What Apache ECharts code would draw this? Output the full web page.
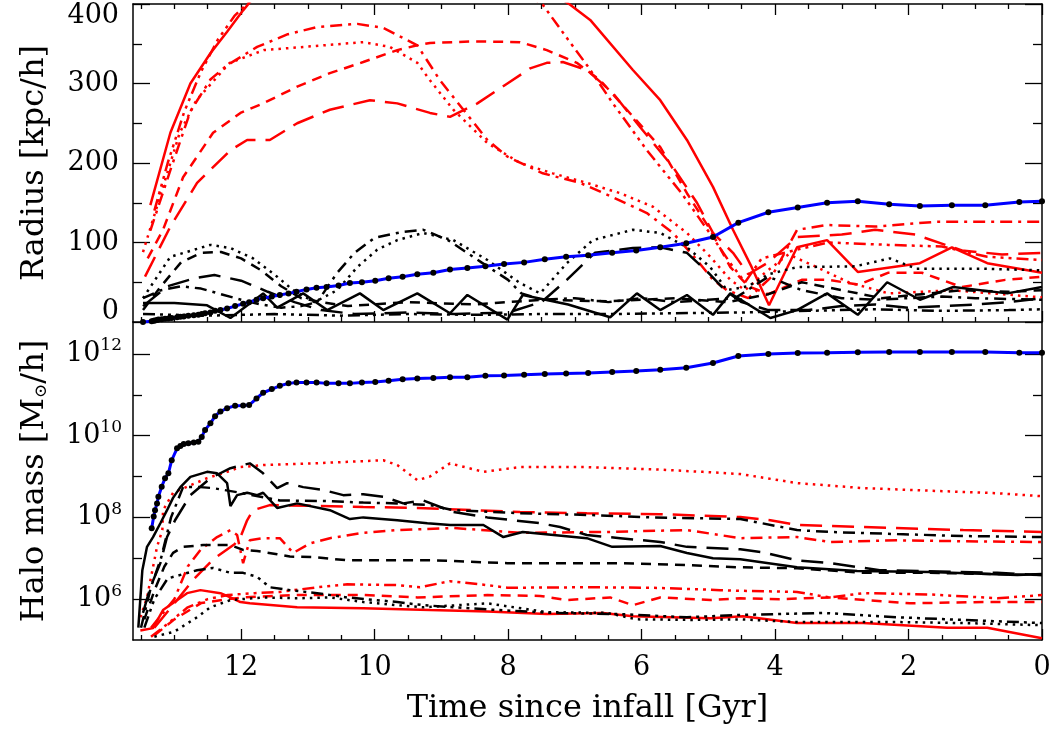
<!DOCTYPE html>
<html><head><meta charset="utf-8">
<script src="https://cdn.jsdelivr.net/npm/echarts@6/dist/echarts.min.js"></script>
<style>html,body{margin:0;padding:0;background:#fff}#c{width:1054px;height:733px}</style>
</head><body><div id="c"></div>
<script>
// ---------- tick values ----------
const xMajorTicks = [0, 2, 4, 6, 8, 10, 12];
const xMinorTicks = [0.5, 1, 1.5, 2.5, 3, 3.5, 4.5, 5, 5.5, 6.5, 7, 7.5, 8.5, 9, 9.5, 10.5, 11, 11.5, 12.5, 13, 13.5];
const rMajorTicks = [0, 100, 200, 300, 400];
const rMinorTicks = [50, 150, 250, 350];
const mMajorTicks = [1e6, 1e8, 1e10, 1e12];
const mMinorTicks = [1e7, 1e9, 1e11];

// ---------- host halo (blue with dots) ----------
const hostTime = [13.47,13.34,13.31,13.29,13.26,13.24,13.19,13.14,13.09,13.04,12.96,12.91,12.86,12.79,12.71,12.64,12.59,12.54,12.46,12.39,12.31,12.21,12.09,11.97,11.88,11.77,11.67,11.54,11.42,11.29,11.17,11.02,10.87,10.72,10.54,10.37,10.19,9.99,9.79,9.58,9.36,9.12,8.87,8.61,8.34,8.06,7.76,7.45,7.13,6.80,6.44,6.08,5.72,5.33,4.93,4.55,4.10,3.66,3.22,2.76,2.29,1.83,1.35,0.85,0.34,0];
const hostRadius = [0,1,1.5,2,2.5,3,3.5,4,4.5,5,6,6.5,7,8,8.5,9,10,11,12,14,15,17,20,23,25,28,30,32,34,36,38,41,43,44,46,49,50,52,55,57,60,62,66,68,70,73,75,79,82,84,87,90,94,99,107,125,138,144,150,152,148,146,147,147,151,152];
const hostMass = [null,5.4e7,1.05e8,1.5e8,2.2e8,3.2e8,5.6e8,9.1e8,1.2e9,2.5e9,4.9e9,5.6e9,6.2e9,6.5e9,6.8e9,7.1e9,9.3e9,1.38e10,2.0e10,3.0e10,3.9e10,4.7e10,5.4e10,5.5e10,5.6e10,8.1e10,1.12e11,1.38e11,1.66e11,1.9e11,2.0e11,2.0e11,2.0e11,1.9e11,1.9e11,1.9e11,2.0e11,2.04e11,2.2e11,2.4e11,2.5e11,2.57e11,2.7e11,2.7e11,2.9e11,2.95e11,3.1e11,3.2e11,3.3e11,3.4e11,3.6e11,3.8e11,4.1e11,4.6e11,6.0e11,8.9e11,1.0e12,1.05e12,1.07e12,1.1e12,1.12e12,1.12e12,1.12e12,1.12e12,1.07e12,1.07e12];

// ---------- satellites: radius [time, kpc/h] ----------
const rRedSolid = [[13.36,147],[13.06,238],[12.76,300],[12.46,338],[12.21,365],[11.97,392],[11.5,440],[10,500],[8.5,480],[7.07,399],[6.77,380],[6.13,317],[5.72,279],[5.32,229],[4.93,170],[4.63,116],[4.35,69],[4.09,21],[3.67,94],[3.22,103],[2.76,63],[1.83,74],[1.35,94],[0.82,74],[0,62]];
const rRedDotted = [[13.47,88],[13.17,170],[12.92,238],[12.67,279],[12.17,326],[11.66,342],[10.17,352],[9.77,346],[9.36,326],[9.17,304],[8.82,267],[8.31,225],[7.82,200],[7.33,187],[6.82,175],[6.32,162],[5.83,145],[5.32,112],[4.97,82],[4.67,53],[4.45,40],[4.15,62],[3.8,85],[3.4,70],[2.9,50],[2.3,36],[1.35,40],[0,31]];
const rRedDashed = [[13.4,80],[13.17,116],[12.87,182],[12.42,238],[12.01,263],[11.67,275],[11.16,296],[10.67,313],[10.17,327],[9.66,342],[9.36,348],[9.17,351],[8.5,353],[7.82,352],[7.42,342],[6.97,326],[6.62,304],[6.22,267],[5.72,220],[5.32,162],[4.97,116],[4.67,69],[4.4,45],[4.1,35],[3.6,53],[3.2,53],[2.75,47],[2.3,62],[1.8,62],[1.2,44],[0.55,53],[0,57]];
const rRedDashDot = [[13.36,115],[13.06,191],[12.76,265],[12.46,305],[12.21,323],[11.76,346],[11.3,362],[10.86,371],[10.26,375],[9.87,370],[9.36,348],[9.02,304],[8.67,267],[8.31,229],[8.01,208],[7.48,187],[6.92,175],[6.43,157],[5.92,137],[5.53,112],[5.17,78],[4.93,53],[4.72,40],[4.4,30],[4.05,57],[3.67,116],[3.22,122],[2.5,120],[1.6,126],[0.8,126],[0,126]];
const rRedDash3 = [[13.3,140],[13.1,200],[12.85,265],[12.6,315],[12.35,355],[12.1,385],[11.85,405],[11,460],[9.5,480],[8.2,440],[7.48,399],[7.1,355],[6.8,321],[6.43,275],[5.92,216],[5.4,162],[4.98,112],[4.67,74],[4.45,50],[4.2,80],[3.67,91],[3.2,100],[2.3,97],[1.5,95],[0.82,82],[0,78]];
const rRedLongDash = [[13.44,57],[13.06,120],[12.66,175],[12.16,216],[11.91,229],[11.57,229],[11.16,250],[10.67,267],[10.07,279],[9.66,275],[9.17,263],[8.87,258],[8.46,275],[8.01,300],[7.67,319],[7.42,326],[7.18,327],[6.82,317],[6.43,288],[6.02,245],[5.53,195],[5.17,150],[4.93,112],[4.63,87],[4.4,60],[4.1,75],[3.67,107],[3.0,110],[2.5,116],[1.9,110],[1.2,90],[0.6,85],[0,87]];
const rBlackSolid = [[13.47,24],[13.0,24],[12.51,21],[12.16,5],[11.67,36],[11.46,18],[11.07,36],[10.71,15],[10.22,36],[9.87,15],[9.36,36],[8.87,11],[8.61,34],[8.01,3],[7.78,34],[7.1,22],[6.47,6],[6.07,36],[5.72,15],[5.32,34],[4.93,9],[4.67,36],[4.07,5],[3.67,15],[3.22,36],[2.76,9],[2.32,50],[1.83,28],[1.33,44],[0.52,36],[0,44]];
const rBlackDotted = [[13.47,30],[13.06,82],[12.46,97],[12.16,93],[11.82,80],[11.46,57],[11.22,40],[10.9,25],[10.56,40],[10.26,69],[9.96,91],[9.66,103],[9.27,112],[8.82,103],[8.31,78],[7.82,49],[7.52,36],[7.12,74],[6.73,103],[6.13,116],[5.72,112],[5.32,94],[4.97,69],[4.72,40],[4.4,45],[4.1,60],[3.67,69],[2.8,70],[2.28,80],[1.88,67],[0.88,67],[0,65]];
const rBlackDashed = [[13.47,15],[13.2,45],[12.9,75],[12.6,87],[12.3,88],[12.0,80],[11.7,65],[11.4,45],[11.1,30],[10.8,25],[10.4,20],[9.5,25],[8.5,22],[7.5,28],[6.5,26],[5.5,30],[4.7,25],[4.1,35],[3.6,50],[3.0,40],[2.4,30],[1.8,35],[1.2,40],[0.5,38],[0,40]];
const rBlackDashDot = [[13.47,30],[13.2,40],[12.9,45],[12.6,42],[12.3,35],[12.0,28],[11.7,22],[11.4,18],[11.1,20],[10.86,25],[10.56,62],[10.3,87],[10.0,106],[9.6,113],[9.27,116],[8.9,103],[8.4,75],[8.0,53],[7.8,36],[7.5,28],[7.0,30],[6.5,25],[6.0,30],[5.5,25],[5.0,28],[4.6,30],[4.1,57],[3.6,40],[3.0,30],[2.5,28],[2.0,30],[1.5,32],[1.0,30],[0,28]];
const rBlackDash3 = [[13.47,10],[12.5,8],[11.5,10],[10.5,8],[9.5,10],[8.5,9],[7.5,10],[6.5,10],[5.5,11],[4.5,12],[3.5,14],[2.5,16],[1.5,14],[0.5,15],[0,16]];
const rBlackLongDash = [[13.47,20],[13.1,45],[12.7,55],[12.4,59],[12.0,52],[11.6,38],[11.2,25],[10.8,15],[10.3,10],[9.5,12],[8.8,10],[8.0,12],[7.5,25],[7.12,53],[6.7,87],[6.13,93],[5.72,94],[5.32,87],[5.0,62],[4.75,40],[4.5,25],[4.1,15],[3.5,15],[3.0,20],[2.5,22],[2.0,18],[1.5,20],[1.0,22],[0.5,25],[0,30]];

// ---------- satellites: halo mass [time, Msun/h] ----------
const mRedSolid = [[13.51,1.7e5],[13.32,1.95e5],[13.17,5.4e5],[12.81,1.4e6],[12.61,1.66e6],[12.31,1.4e6],[12.16,1.1e6],[12.01,8.5e5],[11.87,7.9e5],[11.16,6.3e5],[10.17,6.0e5],[9.17,5.4e5],[8.31,5.0e5],[7.42,4.3e5],[6.58,4.6e5],[6.13,3.8e5],[4.97,3.4e5],[4.48,3.8e5],[3.67,2.6e5],[2.68,2.6e5],[1.42,2.0e5],[0.82,2.0e5],[0,1.1e5]];
const mRedDotted = [[13.51,3.6e5],[13.41,1.1e6],[13.26,1.9e7],[13.18,4.9e7],[13.17,1.5e8],[13.02,4.0e8],[12.81,5.6e8],[12.51,9.1e8],[12.21,1.3e9],[12.01,1.7e9],[11.67,1.9e9],[10.92,2.1e9],[9.87,2.5e9],[9.66,1.9e9],[9.36,8.1e8],[9.17,1.0e9],[8.87,2.1e9],[8.37,1.3e9],[7.82,1.7e9],[6.82,1.7e9],[5.83,1.5e9],[5.08,1.3e9],[4.52,1.15e9],[3.67,6.9e8],[2.68,5.2e8],[1.68,4.5e8],[0.67,3.9e8],[0,3.3e8]];
const mRedDashed = [[13.3,1.3e5],[13.0,3.2e5],[12.6,8.0e5],[12.2,1.0e6],[11.97,1.1e6],[11.16,1.26e6],[10.17,1.26e6],[9.36,1.1e6],[8.31,1.26e6],[7.52,1.2e6],[7.12,9.5e5],[6.47,1.1e6],[6.13,7.1e5],[5.72,1.1e6],[4.97,9.5e5],[4.52,1.05e6],[3.93,1.0e6],[3.18,1.1e6],[1.98,7.9e5],[0.88,8.5e5],[0,8.5e5]];
const mRedDashDot = [[13.35,2.0e5],[13.0,1.0e6],[12.8,6.3e6],[12.61,1.6e7],[12.36,3.3e7],[12.16,4.9e7],[12.06,3.7e7],[11.97,7.6e6],[11.87,2.75e7],[11.67,3.1e7],[11.42,3.1e7],[11.22,1.35e7],[10.97,2.3e7],[10.67,3.1e7],[10.17,4.2e7],[9.66,4.9e7],[8.82,5.5e7],[7.82,4.2e7],[6.52,4.4e7],[5.32,4.9e7],[4.52,3.1e7],[3.67,3.3e7],[3.18,2.5e7],[2.17,2.75e7],[1.18,2.6e7],[0,2.5e7]];
const mRedDash3 = [[13.35,1.2e5],[13.1,2.5e5],[12.8,6.3e5],[12.5,1.0e6],[12.2,1.26e6],[11.8,1.4e6],[11.42,1.5e6],[10.86,1.95e6],[10.41,2.3e6],[9.66,2.2e6],[9.32,1.95e6],[8.87,2.75e6],[8.31,2.2e6],[8.01,1.9e6],[6.82,1.95e6],[5.83,1.9e6],[4.82,1.66e6],[4.52,1.6e6],[3.67,1.5e6],[3.18,1.1e6],[2.68,1.4e6],[1.68,1.3e6],[0.67,1.05e6],[0,1.26e6]];
const mRedLongDash = [[13.3,2.0e5],[13.0,7.9e5],[12.7,3.2e6],[12.4,1.0e7],[12.1,2.2e7],[12.01,3.3e7],[11.91,8.5e7],[11.82,1.5e8],[11.57,2.0e8],[10.86,1.9e8],[10.17,1.8e8],[9.36,1.7e8],[7.82,1.35e8],[6.82,1.26e8],[5.72,1.2e8],[4.52,1.02e8],[4.07,8.5e7],[3.67,6.5e7],[2.68,5.8e7],[1.18,4.9e7],[0,4.4e7]];
const mBlackSolid = [[13.54,2.0e5],[13.48,5.1e6],[13.41,1.9e7],[13.32,3.3e7],[13.21,7.2e7],[13.11,1.5e8],[13.02,3.0e8],[12.91,5.5e8],[12.76,9.8e8],[12.51,1.3e9],[12.36,1.2e9],[12.21,6.9e8],[12.16,1.9e8],[12.06,3.5e8],[11.91,4.0e8],[11.76,3.5e8],[11.67,4.0e8],[11.46,1.7e8],[11.16,2.2e8],[10.67,1.5e8],[10.37,9.1e7],[10.17,1.0e8],[9.66,8.5e7],[9.21,7.2e7],[8.87,6.5e7],[8.37,6.5e7],[8.07,3.3e7],[7.78,4.4e7],[6.82,3.1e7],[6.44,1.9e7],[5.72,2.0e7],[5.32,1.35e7],[4.93,1.0e7],[4.52,9.5e6],[3.67,6.0e6],[2.77,4.9e6],[1.68,4.6e6],[0.37,3.9e6],[0,4.1e6]];
const mBlackDotted = [[13.3,1.2e5],[13.0,1.6e5],[12.66,3.6e5],[12.46,6.3e5],[12.16,9.5e5],[11.67,1.1e6],[11.16,1.05e6],[10.67,1.1e6],[10.17,8.5e5],[9.66,7.1e5],[9.27,6.3e5],[8.31,7.9e5],[7.42,4.8e5],[6.52,4.6e5],[6.07,3.2e5],[5.23,3.1e5],[4.52,3.2e5],[3.67,2.75e5],[2.17,2.75e5],[1.18,2.6e5],[0,2.3e5]];
const mBlackDashed = [[13.45,3.2e5],[13.3,1.6e6],[13.15,6.3e6],[13.02,1.35e7],[12.87,1.9e7],[12.57,2.1e7],[12.16,2.1e7],[11.97,1.6e7],[11.76,1.5e7],[11.46,1.26e7],[11.27,1.1e7],[10.92,1.07e7],[10.41,8.9e6],[9.12,8.9e6],[8.01,7.6e6],[6.32,7.6e6],[5.32,6.8e6],[4.52,6.0e6],[3.67,5.7e6],[2.68,4.4e6],[1.68,4.4e6],[0,3.9e6]];
const mBlackDashDot = [[13.5,2.0e5],[13.35,2.0e6],[13.2,1.0e7],[13.05,1.0e8],[12.87,5.5e8],[12.61,5.5e8],[12.42,5.2e8],[12.01,4.0e8],[11.42,2.6e8],[10.67,2.5e8],[10.17,2.3e8],[9.66,2.2e8],[9.17,2.0e8],[8.82,1.5e8],[7.82,1.26e8],[6.82,1.15e8],[5.83,1.0e8],[4.52,9.1e7],[3.67,4.9e7],[3.18,4.4e7],[2.17,3.9e7],[1.18,3.5e7],[0,3.3e7]];
const mBlackDash3 = [[13.45,2.0e5],[13.3,1.0e6],[13.1,3.2e6],[12.66,5.1e6],[12.42,5.8e6],[12.16,4.4e6],[11.97,4.4e6],[11.76,3.5e6],[11.57,1.95e6],[11.27,1.66e6],[10.86,1.4e6],[10.41,1.1e6],[9.66,8.5e5],[9.27,7.1e5],[8.31,5.6e5],[7.33,4.6e5],[6.32,4.3e5],[5.32,3.6e5],[4.52,4.1e5],[3.28,4.6e5],[2.17,3.6e5],[1.18,3.1e5],[0,2.6e5]];
const mBlackLongDash = [[13.47,4.6e5],[13.36,1.95e6],[13.21,7.6e6],[13.11,3.3e7],[12.99,8.5e7],[12.76,3.5e8],[12.46,9.1e8],[12.16,1.6e9],[11.87,2.1e9],[11.67,1.2e9],[11.46,5.2e8],[11.31,6.9e8],[11.07,5.5e8],[10.77,4.7e8],[10.47,3.5e8],[10.17,3.7e8],[9.87,3.2e8],[9.57,2.2e8],[9.27,2.6e8],[8.82,1.35e8],[8.31,1.0e8],[7.52,7.2e7],[7.22,5.8e7],[6.82,3.7e7],[6.32,3.1e7],[5.72,2.5e7],[5.32,1.9e7],[4.52,1.66e7],[4.18,1.4e7],[3.67,8.9e6],[3.18,7.6e6],[2.43,5.1e6],[0.67,4.4e6],[0,3.9e6]];

// ---------- styling ----------
const FONT = 'DejaVu Serif';
const TICK_FS = 27, TITLE_FS = 32;
const RED = '#ff0000', BLACK = '#000000', BLUE = '#0000ff';
const DASH = {
  solid: 'solid', dotted: [2.5, 5], dashed: [10, 7],
  dashdot: [12, 6, 3, 6], dash3dot: [12, 5, 3, 5, 3, 5, 3, 5], longdash: [22, 10]
};
const satellites = [
  {c: RED, s: 'solid', r: rRedSolid, m: mRedSolid},
  {c: RED, s: 'dotted', r: rRedDotted, m: mRedDotted},
  {c: RED, s: 'dashed', r: rRedDashed, m: mRedDashed},
  {c: RED, s: 'dashdot', r: rRedDashDot, m: mRedDashDot},
  {c: RED, s: 'dash3dot', r: rRedDash3, m: mRedDash3},
  {c: RED, s: 'longdash', r: rRedLongDash, m: mRedLongDash},
  {c: BLACK, s: 'solid', r: rBlackSolid, m: mBlackSolid},
  {c: BLACK, s: 'dotted', r: rBlackDotted, m: mBlackDotted},
  {c: BLACK, s: 'dashed', r: rBlackDashed, m: mBlackDashed},
  {c: BLACK, s: 'dashdot', r: rBlackDashDot, m: mBlackDashDot},
  {c: BLACK, s: 'dash3dot', r: rBlackDash3, m: mBlackDash3},
  {c: BLACK, s: 'longdash', r: rBlackLongDash, m: mBlackLongDash}
];

const series = [];
satellites.forEach(function (sat) {
  const ls = {color: sat.c, width: 2.5, type: DASH[sat.s], cap: 'butt'};
  series.push({type: 'line', xAxisIndex: 0, yAxisIndex: 0, data: sat.r, symbol: 'none', lineStyle: ls, clip: true, silent: true});
  series.push({type: 'line', xAxisIndex: 4, yAxisIndex: 4, data: sat.m, symbol: 'none', lineStyle: ls, clip: true, silent: true});
});
const hostR = hostTime.map(function (t, i) { return [t, hostRadius[i]]; });
const hostM = [];
hostTime.forEach(function (t, i) { if (hostMass[i] != null) hostM.push([t, hostMass[i]]); });
const hostStyle = {type: 'line', symbol: 'circle', symbolSize: 6, showSymbol: true,
  itemStyle: {color: '#000', borderWidth: 0}, lineStyle: {color: BLUE, width: 3}, z: 5, silent: true};
series.push(Object.assign({xAxisIndex: 0, yAxisIndex: 0, data: hostR}, hostStyle));
series.push(Object.assign({xAxisIndex: 4, yAxisIndex: 4, data: hostM}, hostStyle));

// ---------- axes ----------
const lineBlack = {color: '#000', width: 1.5};
function xAx(grid, pos, ticks, len, showLine, labels) {
  const a = {
    gridIndex: grid, type: 'value', inverse: true, min: 0, max: 13.62, position: pos,
    axisLine: {show: showLine, onZero: false, lineStyle: lineBlack},
    axisTick: {show: true, inside: true, length: len, customValues: ticks, lineStyle: {color: '#000', width: 1.3}},
    axisLabel: {show: false}, splitLine: {show: false}
  };
  if (labels) {
    a.axisLabel = {show: true, customValues: xMajorTicks, fontFamily: FONT, fontSize: TICK_FS, color: '#000', margin: 14};
    a.name = 'Time since infall [Gyr]';
    a.nameLocation = 'middle';
    a.nameGap = 53;
    a.nameTextStyle = {fontFamily: FONT, fontSize: TITLE_FS, color: '#000'};
  }
  return a;
}
const xAxis = [
  xAx(0, 'bottom', xMajorTicks, 11, true, false),
  xAx(0, 'bottom', xMinorTicks, 5, false, false),
  xAx(0, 'top', xMajorTicks, 11, true, false),
  xAx(0, 'top', xMinorTicks, 5, false, false),
  xAx(1, 'bottom', xMajorTicks, 11, true, true),
  xAx(1, 'bottom', xMinorTicks, 5, false, false)
];

function rAx(pos, ticks, len, showLine, labels) {
  const a = {
    gridIndex: 0, type: 'value', min: 0, max: 400, position: pos,
    axisLine: {show: showLine, onZero: false, lineStyle: lineBlack},
    axisTick: {show: true, inside: true, length: len, customValues: ticks, lineStyle: {color: '#000', width: 1.3}},
    axisLabel: {show: false}, splitLine: {show: false}
  };
  if (labels) {
    a.axisLabel = {show: true, customValues: rMajorTicks, margin: 14,
      formatter: function (v) { return v === 400 ? '{t|' + v + '}' : (v === 0 ? '{b|' + v + '}' : '{n|' + v + '}'); },
      rich: {
        n: {fontFamily: FONT, fontSize: TICK_FS, color: '#000'},
        t: {fontFamily: FONT, fontSize: TICK_FS, color: '#000', padding: [24, 0, 0, 0]},
        b: {fontFamily: FONT, fontSize: TICK_FS, color: '#000', padding: [0, 0, 20, 0]}
      }};
    a.name = 'Radius [kpc/h]';
    a.nameLocation = 'middle';
    a.nameGap = 82;
    a.nameTextStyle = {fontFamily: FONT, fontSize: TITLE_FS, color: '#000'};
  }
  return a;
}
function mAx(pos, ticks, len, showLine, labels) {
  const a = {
    gridIndex: 1, type: 'log', logBase: 10, min: 1e5, max: 6.03e12, position: pos,
    axisLine: {show: showLine, onZero: false, lineStyle: lineBlack},
    axisTick: {show: true, inside: true, length: len, customValues: ticks, lineStyle: {color: '#000', width: 1.3}},
    axisLabel: {show: false}, splitLine: {show: false}, minorTick: {show: false}
  };
  if (labels) {
    a.axisLabel = {show: true, customValues: mMajorTicks, margin: 11,
      formatter: function (v) { return '{b|10}{s|' + Math.round(Math.log10(v)) + '}'; },
      rich: {
        b: {fontFamily: FONT, fontSize: TICK_FS, color: '#000'},
        s: {fontFamily: FONT, fontSize: 17, color: '#000', padding: [0, 0, 16, 0]}
      }};
    a.name = '{a|Halo mass [M}{o|\u2299}{a|/h]}';
    a.nameLocation = 'middle';
    a.nameGap = 82;
    a.nameTextStyle = {rich: {
      a: {fontFamily: FONT, fontSize: TITLE_FS, color: '#000'},
      o: {fontFamily: FONT, fontSize: 17, color: '#000', padding: [14, 0, 0, 0]}
    }};
  }
  return a;
}
const yAxis = [
  rAx('left', rMajorTicks, 17, true, true),
  rAx('left', rMinorTicks, 9, false, false),
  rAx('right', rMajorTicks, 17, true, false),
  rAx('right', rMinorTicks, 9, false, false),
  mAx('left', mMajorTicks, 17, true, true),
  mAx('left', mMinorTicks, 9, false, false),
  mAx('right', mMajorTicks, 17, true, false),
  mAx('right', mMinorTicks, 9, false, false)
];

const chart = echarts.init(document.getElementById('c'), null, {renderer: 'canvas'});
chart.setOption({
  animation: false,
  backgroundColor: '#fff',
  grid: [
    {left: 133, right: 12, top: 4, height: 318, containLabel: false},
    {left: 133, right: 12, top: 322, height: 318, containLabel: false}
  ],
  xAxis: xAxis,
  yAxis: yAxis,
  series: series
});
</script>
</body></html>
